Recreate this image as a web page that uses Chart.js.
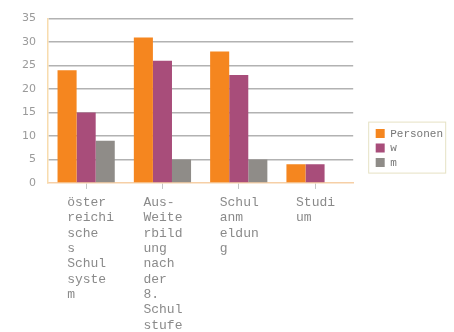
<!DOCTYPE html>
<html>
<head>
<meta charset="utf-8">
<script src="https://cdn.jsdelivr.net/npm/chart.js@4"></script>
<style>
  body { margin: 0; background: #fff; }
  canvas { display: block; }
</style>
</head>
<body>
<canvas id="chart" width="454" height="332"></canvas>
<script>
// Data
const categories = [
  ['öster', 'reichi', 'sche', 's', 'Schul', 'syste', 'm'],
  ['Aus-', 'Weite', 'rbild', 'ung', 'nach', 'der', '8.', 'Schul', 'stufe'],
  ['Schul', 'anm', 'eldun', 'g'],
  ['Studi', 'um']
];
const personen = [24, 31, 28, 4];
const weiblich = [15, 26, 23, 4];
const maennlich = [9, 5, 5, 0];
const yTicks = { min: 0, max: 35, step: 5 };

// legend sits lower and further right than Chart.js puts it, with a thin frame
const legendFrame = {
  id: 'legendFrame',
  afterLayout(chart) {
    const lg = chart.legend;
    const dx = chart.chartArea.right + 19 - lg.left;
    const dy = chart.chartArea.top + 106 - lg.top;
    lg.left += dx; lg.right += dx;
    lg.top += dy; lg.bottom += dy;
  },
  afterDraw(chart) {
    const lg = chart.legend;
    const c = chart.ctx;
    c.save();
    c.strokeStyle = '#e6e2c4';
    c.lineWidth = 1;
    c.strokeRect(lg.left - 3.5, lg.top - 2.5, 77, 51);
    c.restore();
  }
};

document.addEventListener('DOMContentLoaded', function() {
  const ctx = document.getElementById('chart').getContext('2d');
  new Chart(ctx, {
    type: 'bar',
    data: {
      labels: categories,
      datasets: [
        { label: 'Personen', data: personen, backgroundColor: '#f5861f' },
        { label: 'w', data: weiblich, backgroundColor: '#a84d7a' },
        { label: 'm', data: maennlich, backgroundColor: '#8f8c88' }
      ]
    },
    options: {
      responsive: false,
      animation: false,
      layout: { padding: { top: 18, left: 10, right: 20, bottom: -7 } },
      datasets: {
        bar: { categoryPercentage: 0.75, barPercentage: 1 }
      },
      plugins: {
        legend: {
          position: 'right',
          align: 'start',
          labels: {
            boxWidth: 9,
            boxHeight: 9,
            padding: 3.5,
            color: '#777',
            font: { family: 'Liberation Mono', size: 11 }
          }
        },
        tooltip: { enabled: false }
      },
      scales: {
        x: {
          grid: {
            offset: false,
            drawOnChartArea: false,
            drawTicks: true,
            tickLength: 6,
            color: '#c4c4c4'
          },
          border: { color: '#f6cfa6', width: 1.5 },
          ticks: {
            autoSkip: false,
            maxRotation: 0,
            align: 'start',
            labelOffset: -19,
            padding: 6,
            color: '#8a8a8a',
            font: { family: 'Liberation Mono', size: 13, lineHeight: 1.18 }
          }
        },
        y: {
          min: yTicks.min,
          max: yTicks.max,
          grid: {
            drawTicks: false,
            lineWidth: 1.5,
            color: function(c) { return c.tick && c.tick.value === 0 ? 'rgba(0,0,0,0)' : '#b2b2b2'; }
          },
          border: { color: '#f8dcae', width: 1.5 },
          ticks: {
            stepSize: yTicks.step,
            padding: 12,
            color: '#9a9a9a',
            font: { family: 'DejaVu Sans', size: 11 }
          }
        }
      }
    },
    plugins: [legendFrame]
  });
});
</script>
</body>
</html>
